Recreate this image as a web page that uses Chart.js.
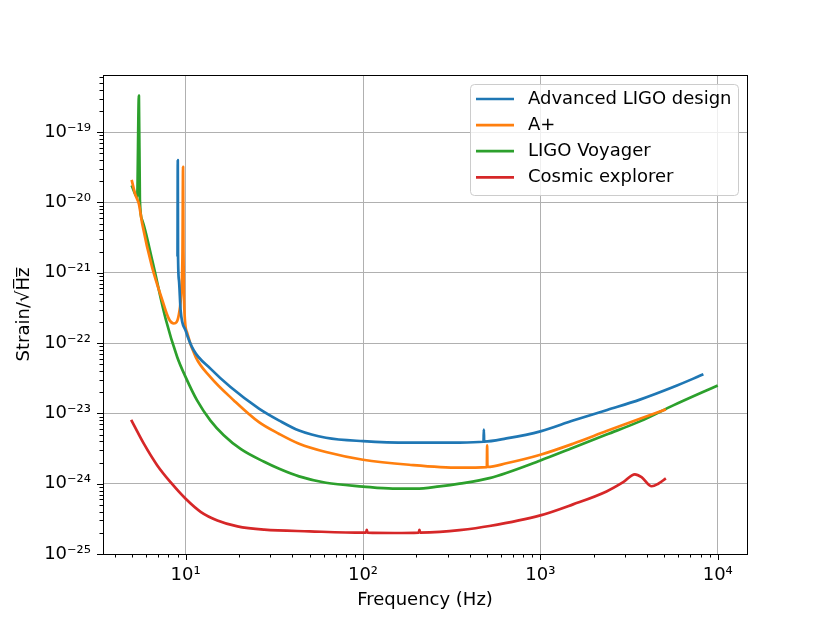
<!DOCTYPE html>
<html>
<head>
<meta charset="utf-8">
<script src="https://cdn.jsdelivr.net/npm/chart.js@4/dist/chart.umd.min.js"></script>
<style>
  body { margin: 0; background: #fff; }
</style>
</head>
<body>
<canvas id="c" width="831" height="623"></canvas>
<script>
const seriesNames = ["Advanced LIGO design", "A+", "LIGO Voyager", "Cosmic explorer"];
const seriesColors = ["#1f77b4", "#ff7f0e", "#2ca02c", "#d62728"];

const aligoFreq = [9.0, 9.03, 9.06, 9.17, 9.37, 10, 11.1, 13.8, 17.9, 25.9, 33.7, 43.6, 61.8, 100, 182, 350, 478, 480, 482, 643, 1000, 1528, 2380, 3640, 5610, 8300];
const aligoStrain = [1.7e-21, 4.0e-20, 1.8e-21, 7.8e-22, 2.9e-22, 1.5e-22, 7.9e-23, 4.33e-23, 2.37e-23, 1.17e-23, 7.9e-24, 5.7e-24, 4.5e-24, 4.03e-24, 3.83e-24, 3.85e-24, 3.95e-24, 5.9e-24, 3.97e-24, 4.4e-24, 5.55e-24, 7.9e-24, 1.12e-23, 1.57e-23, 2.37e-23, 3.59e-23];

const aplusFreq = [4.96, 5.2, 5.45, 5.69, 6.47, 7.38, 8.05, 8.59, 9.17, 9.48, 9.6, 9.67, 9.72, 9.78, 9.91, 10.2, 11.4, 13.8, 18.7, 25.9, 33.7, 43.6, 61.8, 100, 182, 350, 499, 501, 503, 643, 1000, 1528, 2360, 3640, 5100];
const aplusStrain = [2.1e-20, 1.3e-20, 9.5e-21, 5.0e-21, 1.2e-21, 4.1e-22, 2.2e-22, 1.9e-22, 2.6e-22, 6.3e-22, 2.0e-21, 3.2e-20, 2.0e-21, 5.1e-22, 2.1e-22, 1.4e-22, 6.3e-23, 3.28e-23, 1.53e-23, 7.5e-24, 5.1e-24, 3.7e-24, 2.82e-24, 2.19e-24, 1.86e-24, 1.69e-24, 1.72e-24, 3.5e-24, 1.73e-24, 1.95e-24, 2.58e-24, 3.7e-24, 5.6e-24, 8.4e-24, 1.14e-23];

const voyagerFreq = [4.96, 5.33, 5.45, 5.52, 5.69, 6.48, 7.71, 8.97, 10, 11.6, 13.8, 16.4, 20.5, 27.7, 33.7, 43.6, 61.8, 100, 147, 199, 270, 350, 516, 1000, 1528, 2360, 3640, 5610, 10000];
const voyagerStrain = [1.75e-20, 1.19e-20, 3.3e-19, 1.07e-20, 5.6e-21, 1.5e-21, 2.22e-22, 6.3e-23, 3.28e-23, 1.53e-23, 7.9e-24, 4.9e-24, 3.1e-24, 2.05e-24, 1.63e-24, 1.27e-24, 1.03e-24, 9.1e-25, 8.5e-25, 8.5e-25, 9.15e-25, 1.0e-24, 1.2e-24, 2.14e-24, 3.25e-24, 5.0e-24, 7.7e-24, 1.3e-23, 2.5e-23];

const cosmicFreq = [4.93, 5.81, 6.92, 8.22, 10, 12.2, 15.1, 19.6, 27.7, 50, 100, 104, 105, 106, 150, 206, 208, 210, 271, 350, 516, 1000, 1528, 2360, 2930, 3410, 3720, 4240, 4620, 5100];
const cosmicStrain = [8.1e-24, 3.71e-24, 1.82e-24, 1.05e-24, 6.1e-25, 3.95e-25, 3.0e-25, 2.47e-25, 2.22e-25, 2.1e-25, 2.01e-25, 2.01e-25, 2.2e-25, 2.01e-25, 1.99e-25, 2.02e-25, 2.2e-25, 2.02e-25, 2.06e-25, 2.18e-25, 2.5e-25, 3.54e-25, 5.08e-25, 7.76e-25, 1.05e-24, 1.36e-24, 1.24e-24, 9.2e-25, 1.0e-24, 1.19e-24];

const xTickValues = [10, 100, 1000, 10000];
const xTickLabels = ["10¹", "10²", "10³", "10⁴"];
const yTickValues = [1e-25, 1e-24, 1e-23, 1e-22, 1e-21, 1e-20, 1e-19];
const yTickLabels = ["10⁻²⁵", "10⁻²⁴", "10⁻²³", "10⁻²²", "10⁻²¹", "10⁻²⁰", "10⁻¹⁹"];

const FONT = "'DejaVu Sans', sans-serif";

const toPoints = (xs, ys) => xs.map((x, i) => ({ x: x, y: ys[i] }));
const allFreq = [aligoFreq, aplusFreq, voyagerFreq, cosmicFreq];
const allStrain = [aligoStrain, aplusStrain, voyagerStrain, cosmicStrain];

// minor + major tick marks and the box round the axes, like matplotlib
const frameTicks = {
  id: "frameTicks",
  afterDatasetsDraw(chart) {
    const { ctx, chartArea: a, scales } = chart;
    ctx.save();
    ctx.strokeStyle = "#000";
    ctx.lineWidth = 1;
    const xs = scales.x, ys = scales.y;
    for (let e = 0; e <= 4; e++) {
      for (let m = 1; m <= 9; m++) {
        const v = m * Math.pow(10, e);
        if (v < xs.min || v > xs.max) continue;
        const px = Math.round(xs.getPixelForValue(v)) + 0.5;
        const len = m === 1 ? 6 : 3.5;
        ctx.beginPath();
        ctx.moveTo(px, a.bottom);
        ctx.lineTo(px, a.bottom + len);
        ctx.stroke();
      }
    }
    for (let e = -25; e <= -19; e++) {
      for (let m = 1; m <= 9; m++) {
        const v = m * Math.pow(10, e);
        if (v < ys.min * 0.999 || v > ys.max) continue;
        const py = Math.round(ys.getPixelForValue(v)) + 0.5;
        const len = m === 1 ? 6 : 3.5;
        ctx.beginPath();
        ctx.moveTo(a.left, py);
        ctx.lineTo(a.left - len, py);
        ctx.stroke();
      }
    }
    ctx.strokeRect(Math.round(a.left) + 0.5, Math.round(a.top) + 0.5, Math.round(a.right - a.left), Math.round(a.bottom - a.top));
    ctx.restore();
  },
};

// legend box in the upper right corner of the axes
const boxLegend = {
  id: "boxLegend",
  afterDraw(chart) {
    const { ctx } = chart;
    const x0 = 470, y0 = 84, w = 268, h = 111;
    ctx.save();
    ctx.beginPath();
    ctx.roundRect(x0 + 0.5, y0 + 0.5, w, h, 4);
    ctx.fillStyle = "rgba(255,255,255,0.8)";
    ctx.fill();
    ctx.strokeStyle = "#cccccc";
    ctx.lineWidth = 1;
    ctx.stroke();
    ctx.font = "18px " + FONT;
    ctx.textBaseline = "middle";
    chart.data.datasets.forEach((ds, i) => {
      const y = 99 + i * 26.1;
      ctx.beginPath();
      ctx.strokeStyle = ds.borderColor;
      ctx.lineWidth = 2.7;
      ctx.moveTo(476, y);
      ctx.lineTo(514, y);
      ctx.stroke();
      ctx.fillStyle = "#000";
      ctx.fillText(ds.label, 528, y);
    });
    ctx.restore();
  },
};

const ctx = document.getElementById("c").getContext("2d");
const chart = new Chart(ctx, {
  type: "line",
  data: {
    datasets: seriesNames.map((name, i) => ({
      label: name,
      data: toPoints(allFreq[i], allStrain[i]),
      borderColor: seriesColors[i],
      backgroundColor: seriesColors[i],
      borderWidth: 2.7,
      pointRadius: 0,
      cubicInterpolationMode: "monotone",
      borderJoinStyle: "round",
    })),
  },
  options: {
    responsive: false,
    animation: false,
    devicePixelRatio: 1,
    layout: { padding: { top: 75, right: 84, left: 0, bottom: 0 } },
    plugins: {
      legend: { display: false },
      tooltip: { enabled: false },
    },
    scales: {
      x: {
        type: "logarithmic",
        bounds: "data",
        min: 3.42,
        max: 14620,
        afterBuildTicks: (s) => {
          s.ticks = xTickValues.map((v) => ({ value: v }));
        },
        afterFit: (s) => {
          s.height = 69;
        },
        ticks: {
          autoSkip: false,
          maxRotation: 0,
          padding: 11,
          color: "#000",
          font: { family: FONT, size: 18 },
          callback: (v, i) => xTickLabels[i],
        },
        grid: { color: "#b0b0b0", lineWidth: 1, drawTicks: false },
        border: { display: false },
        title: {
          display: true,
          text: "Frequency (Hz)",
          color: "#000",
          font: { family: FONT, size: 18 },
          padding: { top: 0, bottom: 12 },
        },
      },
      y: {
        type: "logarithmic",
        bounds: "data",
        min: 1e-25,
        max: 6.5e-19,
        afterBuildTicks: (s) => {
          s.ticks = yTickValues.map((v) => ({ value: v }));
        },
        afterFit: (s) => {
          s.width = 103;
        },
        ticks: {
          autoSkip: false,
          padding: 12,
          color: "#000",
          font: { family: FONT, size: 18 },
          callback: (v, i) => yTickLabels[i],
        },
        grid: { color: "#b0b0b0", lineWidth: 1, drawTicks: false },
        border: { display: false },
        title: {
          display: true,
          text: "Strain/√H̅z̅",
          color: "#000",
          font: { family: FONT, size: 18 },
          padding: { top: 14, bottom: 0 },
        },
      },
    },
  },
  plugins: [frameTicks, boxLegend],
});
</script>
</body>
</html>
